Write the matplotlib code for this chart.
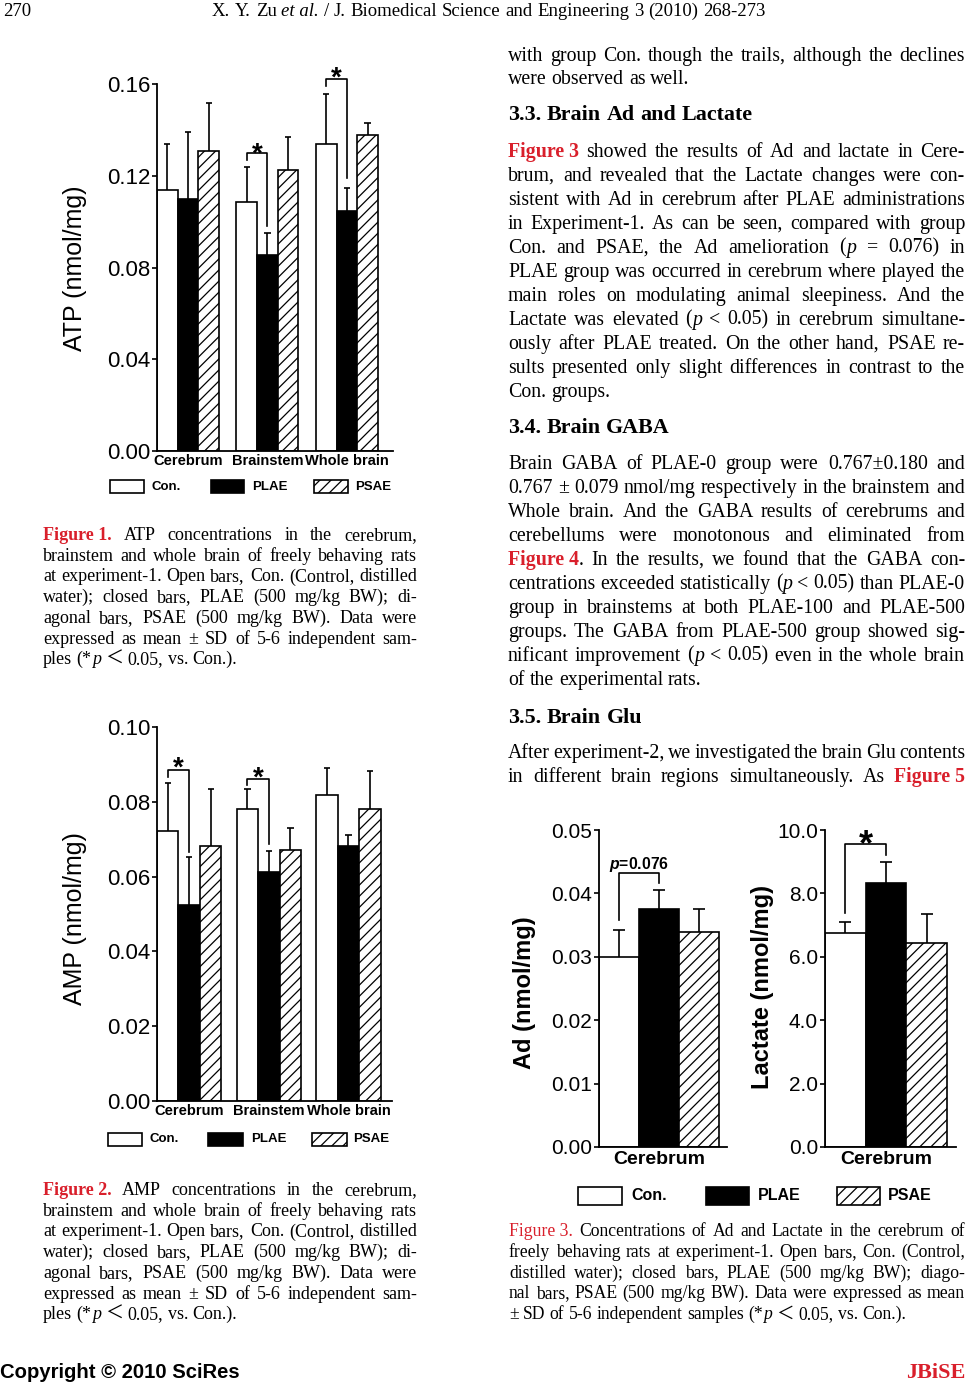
import matplotlib
matplotlib.use('Agg')
import matplotlib.pyplot as plt
from matplotlib.patches import Rectangle
import numpy as np

W, H = 968, 1385
SANS = ['Liberation Sans', 'DejaVu Sans']
SERIF = ['Liberation Serif', 'Noto Sans CJK JP', 'DejaVu Serif']
RED = '#d91f2b'

plt.rcParams['font.family'] = SANS
plt.rcParams['hatch.linewidth'] = 0.9
plt.rcParams['mathtext.fontset'] = 'custom'
plt.rcParams['mathtext.it'] = 'Liberation Sans:bold:italic'
plt.rcParams['mathtext.rm'] = 'Liberation Sans:bold'

# ---- data -------------------------------------------------------------
regions = ['Cerebrum', 'Brainstem', 'Whole brain']
groups = ['Con.', 'PLAE', 'PSAE']

atp_con = [0.1136, 0.1087, 0.1338]
atp_plae = [0.1098, 0.0855, 0.1047]
atp_psae = [0.1310, 0.1225, 0.1377]
atp_con_sd = [0.0202, 0.0149, 0.0218]
atp_plae_sd = [0.0292, 0.0095, 0.0101]
atp_psae_sd = [0.0209, 0.0144, 0.0051]
atp_ticks = [0.00, 0.04, 0.08, 0.12, 0.16]
# significance brackets: (region index, left leg bottom, bar top, right leg bottom, star y)
atp_sig = [(1, 0.1270, 0.1299, 0.0980, 0.1330), (2, 0.1590, 0.1623, 0.1190, 0.1662)]

amp_con = [0.0721, 0.0780, 0.0819]
amp_plae = [0.0524, 0.0612, 0.0682]
amp_psae = [0.0682, 0.0670, 0.0780]
amp_con_sd = [0.0130, 0.0053, 0.0071]
amp_plae_sd = [0.0129, 0.0057, 0.0028]
amp_psae_sd = [0.0151, 0.0061, 0.0102]
amp_ticks = [0.00, 0.02, 0.04, 0.06, 0.08, 0.10]
amp_sig = [(0, 0.0866, 0.0884, 0.0666, 0.0912), (1, 0.0846, 0.0860, 0.0688, 0.0886)]

ad_mean = [0.0300, 0.0375, 0.0339]
ad_sd = [0.0043, 0.0031, 0.0036]
ad_ticks = [0.00, 0.01, 0.02, 0.03, 0.04, 0.05]
ad_sig = (0.0358, 0.0432, 0.0417, 0.0445)

lac_mean = [6.74, 8.32, 6.44]
lac_sd = [0.35, 0.66, 0.91]
lac_ticks = [0.0, 2.0, 4.0, 6.0, 8.0, 10.0]
lac_sig = (7.37, 9.56, 9.21, 9.87)

bar_styles = [('white', ''), ('black', ''), ('white', '///')]

fig = plt.figure(figsize=(W / 100, H / 100), dpi=100)
renderer = fig.canvas.get_renderer()


def px_axes(l, t, r, b):
    return fig.add_axes([l / W, 1 - b / H, (r - l) / W, (b - t) / H])


def fy(y):
    return 1 - y / H


def style_axes(ax, ticks, fmt, labelsize):
    for s in ['top', 'right']:
        ax.spines[s].set_visible(False)
    for s in ['left', 'bottom']:
        ax.spines[s].set_linewidth(1.3)
    ax.set_yticks(ticks)
    ax.set_yticklabels([fmt % t for t in ticks])
    ax.tick_params(axis='y', direction='out', length=3.5, width=1.2,
                   labelsize=labelsize, pad=1.5)
    ax.set_ylim(ticks[0], ticks[-1])
    ax.patch.set_alpha(0)


def draw_bars(ax, x, means, sds, w, fc, hatch, cap):
    ax.bar(x, means, w, color=fc, edgecolor='black', hatch=hatch, lw=1.2, zorder=2)
    tops = np.array(means) + np.array(sds)
    ax.vlines(x, means, tops, color='black', lw=1.2, zorder=1)
    ax.hlines(tops, x - cap, x + cap, color='black', lw=1.2, zorder=1)


def bracket(ax, x0, x1, lb, top, rb):
    ax.plot([x0, x0, x1, x1], [lb, top, top, rb], color='black', lw=1.2, clip_on=False)


def star(ax, x, y, fs):
    ax.annotate('*', (x, y), xytext=(0, -0.58 * fs), textcoords='offset points',
                ha='center', va='baseline', fontsize=fs, fontweight='bold',
                annotation_clip=False)


def legend_row(y, boxes, text_x, box_h, fs):
    for (x0, x1), tx, (fc, h), lab in zip(boxes, text_x, bar_styles, groups):
        fig.add_artist(Rectangle((x0 / W, fy(y + box_h / 2)), (x1 - x0) / W, box_h / H,
                                 transform=fig.transFigure, facecolor=fc,
                                 edgecolor='black', hatch=h, lw=1.2))
        fig.text(tx / W, fy(y), lab, fontsize=fs, fontweight='bold', va='center', ha='left')


def group_panel(box, w, xlim, series, sds, ticks, sig, ylabel, ylab_xy):
    ax = px_axes(*box)
    x = np.arange(len(regions))
    for k, (m, s, (fc, h)) in enumerate(zip(series, sds, bar_styles)):
        draw_bars(ax, x + (k - 1) * w, m, s, w, fc, h, 0.15 * w)
    ax.set_xlim(*xlim)
    style_axes(ax, ticks, '%.2f', 16)
    ax.set_xticks(x)
    ax.set_xticklabels(regions, fontweight='bold', fontsize=10.5)
    ax.tick_params(axis='x', length=0, pad=2.5)
    for g, lb, top, rb, sy in sig:
        bracket(ax, g - w, g, lb, top, rb)
        star(ax, g - w / 2, sy, 20)
    fig.text(ylab_xy[0] / W, fy(ylab_xy[1]), ylabel, rotation=90, fontsize=18,
             ha='center', va='center')
    return ax


# ---- Figure 1: ATP ----------------------------------------------------
group_panel((157, 84, 393, 451), 0.26, (-0.39, 2.58),
            [atp_con, atp_plae, atp_psae], [atp_con_sd, atp_plae_sd, atp_psae_sd],
            atp_ticks, atp_sig, 'ATP (nmol/mg)', (75, 268))
legend_row(487, [(110, 144), (211, 244), (314, 348)], [152, 252, 355], 13, 9.5)

# ---- Figure 2: AMP ----------------------------------------------------
group_panel((157, 727, 392, 1101), 0.27, (-0.405, 2.547),
            [amp_con, amp_plae, amp_psae], [amp_con_sd, amp_plae_sd, amp_psae_sd],
            amp_ticks, amp_sig, 'AMP (nmol/mg)', (75, 919))
legend_row(1139, [(108, 142), (208, 243), (312, 347)], [149, 251, 353], 13, 9.5)


# ---- Figure 3: Ad and Lactate ----------------------------------------
def single_panel(box, means, sds, ticks, fmt, sig, ylabel, ylab_xy, right):
    ax = px_axes(*box)
    x = np.arange(len(groups)) - 1.0
    for xi, m, s, (fc, h) in zip(x, means, sds, bar_styles):
        draw_bars(ax, np.array([xi]), [m], [s], 1.0, fc, h, 0.15)
    ax.set_xlim(-1.5, right)
    style_axes(ax, ticks, fmt, 15)
    ax.set_xticks([0])
    ax.set_xticklabels(['Cerebrum'], fontweight='bold', fontsize=14)
    ax.tick_params(axis='x', length=0, pad=3)
    lb, top, rb, sy = sig
    bracket(ax, -1, 0, lb, top, rb)
    fig.text(ylab_xy[0] / W, fy(ylab_xy[1]), ylabel, rotation=90, fontsize=17,
             fontweight='bold', ha='center', va='center')
    return ax, sy


ax_ad, sy = single_panel((599, 830, 727, 1147), ad_mean, ad_sd, ad_ticks, '%.2f', ad_sig,
                         'Ad (nmol/mg)', (525, 993), 1.71)
ax_ad.text(-0.5, sy, '$p$=0.076', ha='center', va='center', fontsize=11.3,
           fontweight='bold')
ax_lac, sy = single_panel((825, 830, 956, 1147), lac_mean, lac_sd, lac_ticks, '%.1f', lac_sig,
                          'Lactate (nmol/mg)', (762, 987), 1.72)
star(ax_lac, -0.5, sy, 26)
legend_row(1196, [(578, 622), (706, 749), (837, 880)], [631, 758, 888], 18, 11.5)

# ---- page text ---------------------------------------------------------
STYLES = {
    'n': dict(family=SERIF),
    'b': dict(family=SERIF, weight='bold'),
    'r': dict(family=SERIF, weight='bold', color=RED),
    'q': dict(family=SERIF, color=RED),
    'i': dict(family=SERIF, style='italic'),
}


def parse(line, base):
    words = []
    for tok in line.split(' '):
        runs, buf, st = [], '', base
        for ch in tok:
            if ch in '[{^]}':
                if buf:
                    runs.append((buf, st))
                    buf = ''
                if ch == '[':
                    st = 'r'
                elif ch == '{':
                    st = 'q'
                elif ch == '^':
                    st = 'i' if st != 'i' else base
                else:
                    st = base
            else:
                buf += ' ' if ch == '~' else ch
        if buf:
            runs.append((buf, st))
        words.append(runs)
    return words


def text_width(s, fs, st):
    t = fig.text(0, 0, s, fontsize=fs, **STYLES[st])
    w = t.get_window_extent(renderer).width
    t.remove()
    return w


def block(lines, x0, x1, y0, dy, fs, base='n'):
    space = text_width('a a', fs, base) - text_width('aa', fs, base)
    for i, line in enumerate(lines):
        ragged = line.endswith('|')
        words = parse(line.rstrip('|'), base)
        widths = [[text_width(s, fs, st) for s, st in w] for w in words]
        total = sum(sum(ws) for ws in widths)
        if ragged or len(words) < 2:
            gap = space
        else:
            gap = (x1 - x0 - total) / (len(words) - 1)
        x = x0
        yb = y0 + i * dy + 0.28 * fs * 100 / 72
        for w, ws in zip(words, widths):
            for (s, st), wd in zip(w, ws):
                fig.text(x / W, fy(yb), s, fontsize=fs, va='baseline', **STYLES[st])
                x += wd
            x += gap


cap_lines = ["ATP concentrations in the cerebrum,", "AMP concentrations in the cerebrum,"]
cap_rest = [
    "brainstem and whole brain of freely behaving rats",
    "at experiment-1. Open bars, Con. (Control, distilled",
    "water); closed bars, PLAE (500 mg/kg BW); di-",
    "agonal bars, PSAE (500 mg/kg BW). Data were",
    "expressed as mean ± SD of 5-6 independent sam-",
    "ples (*^p^ ＜ 0.05, vs. Con.).|",
]
block(["[Figure~1.] " + cap_lines[0]] + cap_rest, 43, 417, 535, 20.7, 13)
block(["[Figure~2.] " + cap_lines[1]] + cap_rest, 43, 417, 1190, 20.7, 13)

cap3 = [
    "{Figure~3.} Concentrations of Ad and Lactate in the cerebrum of",
    "freely behaving rats at experiment-1. Open bars, Con. (Control,",
    "distilled water); closed bars, PLAE (500 mg/kg BW); diago-",
    "nal bars, PSAE (500 mg/kg BW). Data were expressed as mean",
    "± SD of 5-6 independent samples (*^p^ ＜ 0.05, vs. Con.).|",
]
block(cap3, 509, 965, 1231, 20.8, 12.7)

para1 = ["with group Con. though the trails, although the declines",
         "were observed as well.|"]
para2 = [
    "[Figure~3] showed the results of Ad and lactate in Cere-",
    "brum, and revealed that the Lactate changes were con-",
    "sistent with Ad in cerebrum after PLAE administrations",
    "in Experiment-1. As can be seen, compared with group",
    "Con. and PSAE, the Ad amelioration (^p^ = 0.076) in",
    "PLAE group was occurred in cerebrum where played the",
    "main roles on modulating animal sleepiness. And the",
    "Lactate was elevated (^p^ < 0.05) in cerebrum simultane-",
    "ously after PLAE treated. On the other hand, PSAE re-",
    "sults presented only slight differences in contrast to the",
    "Con. groups.|",
]
para3 = [
    "Brain GABA of PLAE-0 group were 0.767±0.180 and",
    "0.767 ± 0.079 nmol/mg respectively in the brainstem and",
    "Whole brain. And the GABA results of cerebrums and",
    "cerebellums were monotonous and eliminated from",
    "[Figure~4]. In the results, we found that the GABA con-",
    "centrations exceeded statistically (^p^ < 0.05) than PLAE-0",
    "group in brainstems at both PLAE-100 and PLAE-500",
    "groups. The GABA from PLAE-500 group showed sig-",
    "nificant improvement (^p^ < 0.05) even in the whole brain",
    "of the experimental rats.|",
]
para4 = ["After experiment-2, we investigated the brain Glu contents",
         "in different brain regions simultaneously. As [Figure~5]"]

block(para1, 508, 965, 55, 23, 14.3)
block(["3.3. Brain Ad and Lactate|"], 508, 965, 114, 24, 15.8, base='b')
block(para2, 508, 965, 151, 24, 14.3)
block(["3.4. Brain GABA|"], 508, 965, 427, 24, 15.8, base='b')
block(para3, 508, 965, 463, 24, 14.3)
block(["3.5. Brain Glu|"], 508, 965, 717, 24, 15.8, base='b')
block(para4, 508, 965, 752, 24, 14.3)

# header and footer
block(["270|"], 3, 60, 11, 20, 13.5)
block(["X. Y. Zu ^et~al.^ / J. Biomedical Science and Engineering 3 (2010) 268-273|"],
      212, 760, 11, 20, 13.5)
fig.text(0 / W, fy(1373), 'Copyright © 2010 SciRes', fontsize=14.6, fontweight='bold',
         ha='left', va='center')
fig.text(965 / W, fy(1373), 'JBiSE', fontsize=16, fontweight='bold', color=RED,
         family=SERIF, ha='right', va='center')

fig.savefig('out.png', dpi=100)
